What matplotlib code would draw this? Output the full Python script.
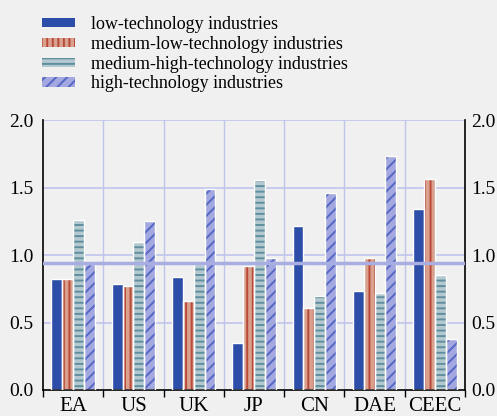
import numpy as np
import matplotlib
matplotlib.use("Agg")
import matplotlib.pyplot as plt

plt.rcParams.update({
	"font.family": ["Liberation Serif", "DejaVu Serif"],
	"font.size": 14,
	"hatch.linewidth": 1.4,
	})

# Data
regions = ["EA", "US", "UK", "JP", "CN", "DAE", "CEEC"]
series = [
	"low-technology industries",
	"medium-low-technology industries",
	"medium-high-technology industries",
	"high-technology industries",
	]
low_tech = [0.82, 0.785, 0.835, 0.35, 1.215, 0.73, 1.34]
medium_low_tech = [0.82, 0.77, 0.66, 0.92, 0.607, 0.98, 1.565]
medium_high_tech = [1.26, 1.10, 0.93, 1.555, 0.70, 0.72, 0.855]
high_tech = [0.93, 1.25, 1.49, 0.98, 1.46, 1.73, 0.38]
reference_level = 0.94
y_ticks = [0.0, 0.5, 1.0, 1.5, 2.0]
y_ticklabels = ["0.0", "0.5", "1.0", "1.5", "2.0"]

values = [low_tech, medium_low_tech, medium_high_tech, high_tech]
fills = ["#2c4ea8", "#d9a08e", "#b4c8d0", "#a3a9e0"]
hatch_colors = ["#2c4ea8", "#b84a3a", "#5f8f9f", "#5566c4"]
hatches = [None, "|||", "---", "///"]

bg = "#f0f0f0"
grid_c = "#c0c4ec"

fig = plt.figure(figsize=(4.97, 4.16), dpi=100, facecolor=bg)
ax = fig.add_axes([0.0865, 0.0625, 0.849, 0.649], facecolor=bg)

x = np.arange(len(regions))
w = 0.18
for k in range(4):
	pos = x + (k - 1.5) * w
	ax.bar(pos, values[k], w, color=fills[k], edgecolor=hatch_colors[k],
		hatch=hatches[k], linewidth=0, label=series[k], zorder=2)
	ax.bar(pos, values[k], w, fill=False, edgecolor="white", linewidth=1.0, zorder=3)

ax.axhline(reference_level, color="#a8ade2", lw=2.5, zorder=4)

ax.set_xlim(-0.5, len(regions) - 0.5)
ax.set_ylim(0, 2.0)

# grid: vertical lines at group boundaries, horizontal at 0.5 steps
for b in np.arange(0.5, len(regions) - 0.5, 1.0):
	ax.axvline(b, color=grid_c, lw=1, zorder=1)
for yv in y_ticks[1:]:
	ax.axhline(yv, color=grid_c, lw=1.2, zorder=1)

# left tick labels
ax.set_yticks(y_ticks)
ax.set_yticklabels(y_ticklabels)
ax.tick_params(axis="y", length=0, pad=7)

# right tick labels on a twin axis, closer to the spine
axr = ax.twinx()
axr.set_ylim(ax.get_ylim())
axr.set_yticks(y_ticks)
axr.set_yticklabels(y_ticklabels)
axr.tick_params(axis="y", length=0, pad=4.5)
for s in axr.spines.values():
	s.set_visible(False)

ax.set_xticks(np.arange(-0.5, len(regions), 1.0))
ax.set_xticklabels([])
ax.set_xticks(x, minor=True)
ax.set_xticklabels(regions, minor=True, fontsize=15)
ax.tick_params(axis="x", which="major", direction="out", length=5, width=1)
ax.tick_params(axis="x", which="minor", length=0, pad=5)

for s in ["left", "right", "bottom"]:
	ax.spines[s].set_color("black")
	ax.spines[s].set_linewidth(1.2)
ax.spines["top"].set_visible(False)

h, l = ax.get_legend_handles_labels()
fig.legend(h, l, loc="upper left", bbox_to_anchor=(0.0845, 0.962), frameon=False,
	fontsize=13, handlelength=1.85, handleheight=0.4, handletextpad=0.85,
	labelspacing=0.16, borderpad=0, borderaxespad=0)

fig.savefig("out.png", dpi=100, facecolor=bg)
